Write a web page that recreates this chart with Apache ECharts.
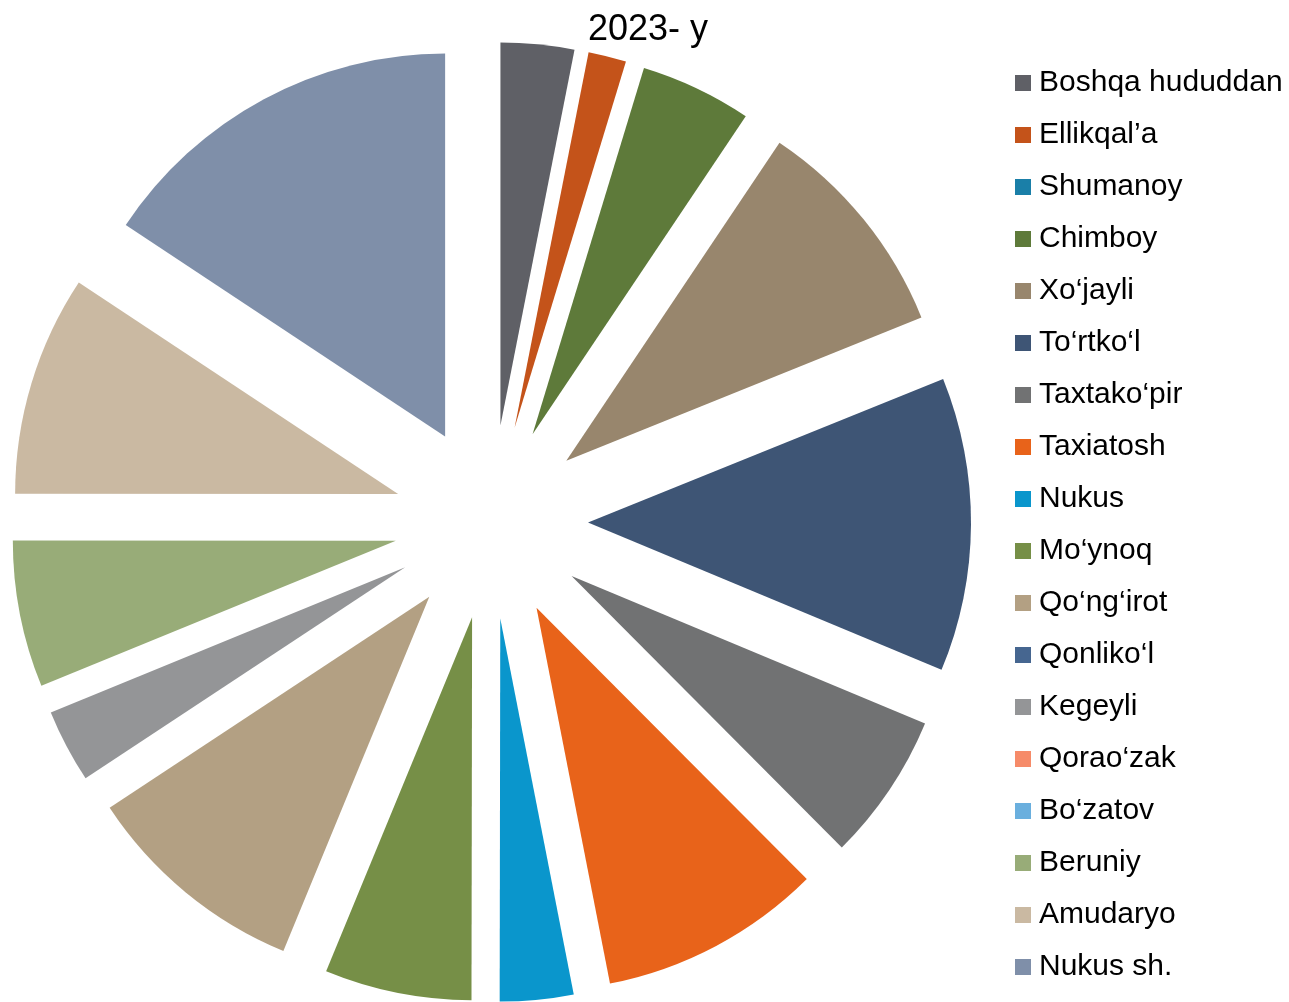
<!DOCTYPE html>
<html>
<head>
<meta charset="utf-8">
<script src="https://cdn.jsdelivr.net/npm/echarts@6/dist/echarts.min.js"></script>
<style>
  html, body { margin: 0; padding: 0; background: #fff; }
  #chart { width: 1289px; height: 1002px; }
</style>
</head>
<body>
<div id="chart"></div>
<script>
// districts, clockwise from 12 o'clock
const districts = [
  'Boshqa hududdan', 'Ellikqal\u2019a', 'Shumanoy', 'Chimboy', 'Xo\u2018jayli',
  'To\u2018rtko\u2018l', 'Taxtako\u2018pir', 'Taxiatosh', 'Nukus', 'Mo\u2018ynoq',
  'Qo\u2018ng\u2018irot', 'Qonliko\u2018l', 'Kegeyli', 'Qorao\u2018zak', 'Bo\u2018zatov',
  'Beruniy', 'Amudaryo', 'Nukus sh.'
];

// share of each district (%)
const shares = [
  3.1, 1.6, 0, 4.7, 9.5,
  12.4, 6.25, 9.4, 3.1, 6.2,
  9.5, 0, 3.1, 0, 0,
  6.2, 9.3, 15.7
];

const colors = [
  '#5f6066', '#c4531a', '#1a7fa8', '#5e7a3a', '#98866d',
  '#3e5575', '#717273', '#e8631a', '#0a96cc', '#768f47',
  '#b3a083', '#466690', '#949597', '#f68b69', '#6aafde',
  '#98ac78', '#cab9a2', '#7f8fa9'
];

const titleText = '2023- y';

const chart = echarts.init(document.getElementById('chart'));

const option = {
  animation: false,
  color: colors,
  title: {
    text: titleText,
    left: 588,
    top: 12,
    padding: 0,
    textStyle: {
      fontFamily: 'Liberation Sans',
      fontSize: 36,
      fontWeight: 'normal',
      color: '#000'
    }
  },
  legend: {
    orient: 'vertical',
    left: 1015,
    top: 68,
    padding: 0,
    itemWidth: 16,
    itemHeight: 16,
    itemGap: 22,
    icon: 'rect',
    data: districts,
    textStyle: {
      fontFamily: 'Liberation Sans',
      fontSize: 30,
      lineHeight: 30,
      color: '#000',
      padding: [0, 0, 0, 3]
    }
  },
  series: [
    {
      type: 'pie',
      center: [491, 522],
      radius: [0, 383],
      startAngle: 90,
      clockwise: true,
      selectedMode: 'multiple',
      selectedOffset: 97,
      silent: true,
      label: { show: false },
      labelLine: { show: false },
      itemStyle: { borderWidth: 0 },
      data: districts.map((name, i) => ({
        name,
        value: shares[i],
        selected: true
      }))
    }
  ]
};

chart.setOption(option);
</script>
</body>
</html>
